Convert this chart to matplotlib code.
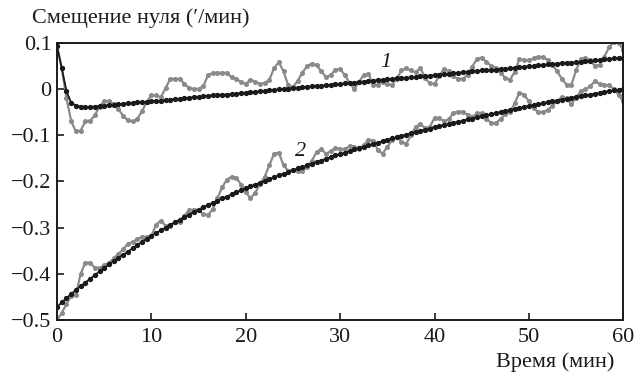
import matplotlib
matplotlib.use("Agg")
import matplotlib.pyplot as plt
import numpy as np

plt.rcParams['font.family'] = ['Liberation Serif', 'DejaVu Serif']

# time axis (minutes), sampled every 0.5 min
time_min = [i * 0.5 for i in range(121)]

# curve 1: measured (gray) and fitted (black)
meas1 = [0.092, 0.045, -0.020, -0.070, -0.092, -0.090, -0.070, -0.069, -0.057, -0.038,
         -0.027, -0.026, -0.033, -0.044, -0.058, -0.068, -0.070, -0.065, -0.048, -0.028,
         -0.013, -0.014, -0.018, 0.002, 0.022, 0.022, 0.022, 0.011, 0.002, 0.000,
         0.000, 0.006, 0.030, 0.035, 0.035, 0.035, 0.035, 0.025, 0.022, 0.015,
         0.011, 0.020, 0.016, 0.011, 0.013, 0.020, 0.045, 0.058, 0.038, 0.008,
         0.004, 0.018, 0.035, 0.050, 0.055, 0.052, 0.038, 0.026, 0.030, 0.042,
         0.043, 0.030, 0.013, 0.000, 0.015, 0.031, 0.033, 0.009, 0.009, 0.016,
         0.010, 0.009, 0.022, 0.040, 0.045, 0.040, 0.036, 0.046, 0.024, 0.012,
         0.011, 0.028, 0.044, 0.038, 0.027, 0.022, 0.022, 0.030, 0.048, 0.065,
         0.068, 0.059, 0.050, 0.046, 0.035, 0.024, 0.020, 0.037, 0.065, 0.063,
         0.062, 0.066, 0.070, 0.069, 0.063, 0.052, 0.038, 0.022, 0.009, 0.009,
         0.040, 0.065, 0.068, 0.062, 0.050, 0.052, 0.070, 0.090, 0.102, 0.100,
         0.085]
fit1 = [0.092, 0.045, -0.005, -0.030, -0.036, -0.038, -0.039, -0.039, -0.038, -0.037,
        -0.036, -0.035, -0.034, -0.033, -0.032, -0.031, -0.030, -0.029, -0.029, -0.028,
        -0.027, -0.026, -0.025, -0.024, -0.023, -0.022, -0.021, -0.020, -0.019, -0.018,
        -0.017, -0.016, -0.015, -0.014, -0.013, -0.012, -0.012, -0.011, -0.010, -0.009,
        -0.008, -0.007, -0.006, -0.005, -0.004, -0.003, -0.002, -0.001, 0.000, 0.001,
        0.002, 0.003, 0.004, 0.005, 0.006, 0.006, 0.007, 0.008, 0.009, 0.010,
        0.011, 0.012, 0.013, 0.014, 0.015, 0.016, 0.017, 0.018, 0.019, 0.020,
        0.021, 0.022, 0.023, 0.023, 0.024, 0.025, 0.026, 0.027, 0.028, 0.029,
        0.030, 0.031, 0.032, 0.033, 0.034, 0.035, 0.036, 0.037, 0.038, 0.039,
        0.040, 0.040, 0.041, 0.042, 0.043, 0.044, 0.045, 0.046, 0.047, 0.048,
        0.049, 0.050, 0.051, 0.052, 0.053, 0.054, 0.055, 0.056, 0.057, 0.057,
        0.058, 0.059, 0.060, 0.061, 0.062, 0.063, 0.064, 0.065, 0.066, 0.067,
        0.068]

# curve 2: measured (gray) and fitted (black)
meas2 = [-0.500, -0.485, -0.465, -0.448, -0.445, -0.400, -0.376, -0.376, -0.387, -0.387,
         -0.382, -0.376, -0.367, -0.357, -0.347, -0.335, -0.331, -0.325, -0.320, -0.320,
         -0.318, -0.294, -0.285, -0.296, -0.296, -0.289, -0.287, -0.274, -0.262, -0.261,
         -0.262, -0.271, -0.273, -0.260, -0.236, -0.213, -0.196, -0.190, -0.192, -0.207,
         -0.224, -0.236, -0.225, -0.206, -0.190, -0.165, -0.140, -0.138, -0.165, -0.178,
         -0.175, -0.177, -0.178, -0.168, -0.156, -0.136, -0.131, -0.140, -0.135, -0.127,
         -0.130, -0.130, -0.124, -0.125, -0.130, -0.122, -0.110, -0.112, -0.132, -0.140,
         -0.125, -0.111, -0.103, -0.114, -0.119, -0.100, -0.082, -0.076, -0.084, -0.082,
         -0.063, -0.063, -0.070, -0.066, -0.052, -0.049, -0.049, -0.056, -0.061, -0.053,
         -0.053, -0.065, -0.073, -0.074, -0.065, -0.055, -0.050, -0.031, -0.008, -0.012,
         -0.027, -0.042, -0.050, -0.050, -0.045, -0.036, -0.026, -0.017, -0.020, -0.032,
         -0.020, -0.004, -0.001, 0.006, 0.017, 0.011, 0.008, 0.008, 0.000, -0.012,
         -0.027]
fit2 = [-0.472, -0.462, -0.453, -0.444, -0.435, -0.427, -0.419, -0.411, -0.403, -0.395,
        -0.388, -0.380, -0.373, -0.366, -0.359, -0.352, -0.345, -0.338, -0.331, -0.324,
        -0.318, -0.312, -0.306, -0.300, -0.294, -0.288, -0.283, -0.277, -0.272, -0.266,
        -0.261, -0.256, -0.251, -0.246, -0.242, -0.237, -0.233, -0.228, -0.224, -0.219,
        -0.215, -0.211, -0.207, -0.203, -0.199, -0.195, -0.191, -0.187, -0.184, -0.180,
        -0.176, -0.172, -0.169, -0.165, -0.162, -0.158, -0.155, -0.151, -0.148, -0.144,
        -0.141, -0.138, -0.135, -0.131, -0.128, -0.125, -0.122, -0.119, -0.116, -0.113,
        -0.110, -0.107, -0.105, -0.102, -0.099, -0.096, -0.094, -0.091, -0.088, -0.086,
        -0.083, -0.081, -0.078, -0.076, -0.073, -0.071, -0.069, -0.066, -0.064, -0.061,
        -0.059, -0.057, -0.055, -0.052, -0.050, -0.048, -0.046, -0.044, -0.041, -0.039,
        -0.037, -0.035, -0.033, -0.031, -0.029, -0.027, -0.025, -0.023, -0.021, -0.019,
        -0.017, -0.015, -0.014, -0.012, -0.010, -0.009, -0.007, -0.005, -0.003, -0.002,
        0.000]

x_ticks = [0, 10, 20, 30, 40, 50, 60]
x_tick_labels = ["0", "10", "20", "30", "40", "50", "60"]
y_ticks = [-0.5, -0.4, -0.3, -0.2, -0.1, 0.0, 0.1]
y_tick_labels = ["\u22120.5", "\u22120.4", "\u22120.3", "\u22120.2", "\u22120.1", "0", "0.1"]

fig = plt.figure(figsize=(6.34, 3.72), dpi=100)
ax = fig.add_axes([0.09, 0.14, 0.893, 0.745])

gray = "#8a8a8a"
black = "#1a1a1a"
ax.plot(time_min, meas1, color=gray, lw=1.6, marker="o", ms=2.6, mec=gray, mfc=gray, zorder=2)
ax.plot(time_min, meas2, color=gray, lw=1.6, marker="o", ms=2.6, mec=gray, mfc=gray, zorder=2)
ax.plot(time_min, fit1, color=black, lw=1.3, marker="o", ms=2.8, mec=black, mfc=black, zorder=3)
ax.plot(time_min, fit2, color=black, lw=1.3, marker="o", ms=2.8, mec=black, mfc=black, zorder=3)

ax.set_xlim(0, 60)
ax.set_ylim(-0.5, 0.1)
ax.set_xticks(x_ticks)
ax.set_xticklabels(x_tick_labels)
ax.set_yticks(y_ticks)
ax.set_yticklabels(y_tick_labels)
ax.tick_params(direction="in", length=5, width=1.2, labelsize=16, colors="#1a1a1a",
               top=False, right=False)
ax.tick_params(axis="x", pad=6)
ax.tick_params(axis="y", pad=4)
for s in ax.spines.values():
    s.set_linewidth(1.4)
    s.set_color("#1a1a1a")

ax.text(34.8, 0.058, "1", style="italic", fontsize=16, ha="center", va="center", color="#1a1a1a")
ax.text(25.8, -0.135, "2", style="italic", fontsize=16, ha="center", va="center", color="#1a1a1a")

fig.text(0.05, 0.952, "Смещение нуля (\u2032/мин)", fontsize=16, ha="left", va="center", color="#1a1a1a")
fig.text(0.969, 0.027, "Время (мин)", fontsize=16, ha="right", va="center", color="#1a1a1a")

fig.savefig("out.png", dpi=100)
